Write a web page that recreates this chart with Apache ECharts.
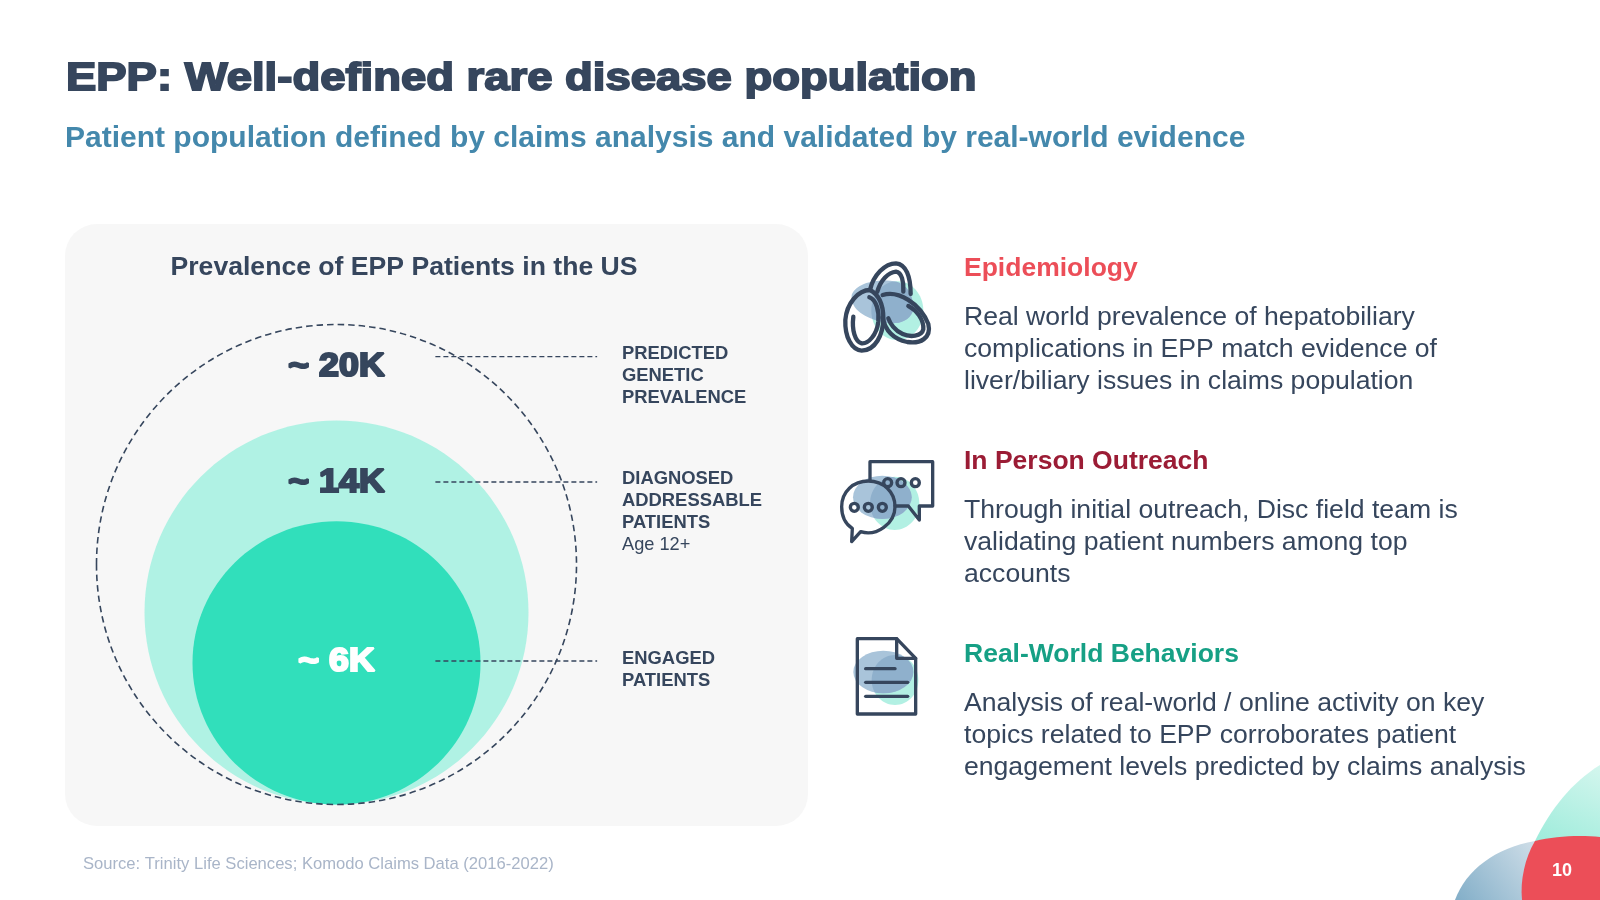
<!DOCTYPE html>
<html>
<head>
<meta charset="utf-8">
<style>html,body{margin:0;padding:0;background:#fff}#chart{width:1600px;height:900px}</style>
<script src="https://cdn.jsdelivr.net/npm/echarts@6/dist/echarts.min.js"></script>
</head>
<body>
<div id="chart"></div>
<script>
var categories = ["Predicted genetic prevalence", "Diagnosed addressable patients", "Engaged patients"];
var patientsK = [20, 14, 6];
// circle size as a share of the outer circle
var widthShare = [100, 80, 60];
var heightShare = [100, 80, 59];
var circleLabels = ["~ 20K", "~ 14K", "~ 6K"];

var sideLabels = [
	["PREDICTED", "GENETIC", "PREVALENCE"],
	["DIAGNOSED", "ADDRESSABLE", "PATIENTS"],
	["ENGAGED", "PATIENTS"]
];

var topics = ["Epidemiology", "In Person Outreach", "Real-World Behaviors"];
var topicText = [
	["Real world prevalence of hepatobiliary", "complications in EPP match evidence of", "liver/biliary issues in claims population"],
	["Through initial outreach, Disc field team is", "validating patient numbers among top", "accounts"],
	["Analysis of real-world / online activity on key", "topics related to EPP corroborates patient", "engagement levels predicted by claims analysis"]
];

var navy = "#36465d";
var sans = '"Liberation Sans", Arial, sans-serif';
var topicColors = ["#ec4e58", "#9b1c35", "#16a085"];
var fills = ["none", "#b0f2e4", "#31dfbb"];
var numColors = [navy, navy, "#ffffff"];
// y of leader line and of the number, on the hidden 0-100 axis
var leaderY = [93.3, 67.2, 29.9];
var numberY = [91.2, 67.0, 29.7];

function txt(x, y, s, font, fill, extra) {
	return {
		type: "text", silent: true,
		style: Object.assign({ x: x, y: y, text: s, font: font, fill: fill, verticalAlign: "middle", align: "left" }, extra || {})
	};
}

var els = [];
els.push({ type: "rect", silent: true, z: -10, shape: { x: 65, y: 224, width: 743, height: 602, r: 32 }, style: { fill: "#f7f7f7" } });
els.push({
	type: "text", silent: true, x: 66, y: 79.5, scaleX: 1.165,
	style: { x: 0, y: 0, text: "EPP: Well-defined rare disease population", font: "700 39px " + sans, fill: navy, stroke: navy, lineWidth: 1.8, verticalAlign: "middle", align: "left" }
});
els.push(txt(65, 138.5, "Patient population defined by claims analysis and validated by real-world evidence", "700 30px " + sans, "#4488ac"));
els.push(txt(170.5, 268, "Prevalence of EPP Patients in the US", "700 26.6px " + sans, navy));
els.push(txt(83, 864, "Source: Trinity Life Sciences; Komodo Claims Data (2016-2022)", "400 16.6px " + sans, "#a9b5c8"));

var sideTop = [353.5, 478.5, 658.5];
sideLabels.forEach(function (lines, i) {
	lines.forEach(function (s, j) {
		els.push(txt(622, sideTop[i] + j * 22, s, "700 18.4px " + sans, navy));
	});
});
els.push(txt(622, 544.5, "Age 12+", "400 18.2px " + sans, navy));

var topicTop = [269, 462, 655];
topics.forEach(function (t, i) {
	els.push(txt(964, topicTop[i], t, "700 26.5px " + sans, topicColors[i]));
	topicText[i].forEach(function (s, j) {
		els.push(txt(964, topicTop[i] + 48.5 + j * 32, s, "400 26.6px " + sans, navy));
	});
});

function ell(cx, cy, rx, ry) {
	return "M" + (cx - rx) + " " + cy + "A" + rx + " " + ry + " 0 1 1 " + (cx + rx) + " " + cy + "A" + rx + " " + ry + " 0 1 1 " + (cx - rx) + " " + cy + "Z";
}

// teal blob, blue blob, then the blue shape again clipped to the teal for the darker overlap
function icon(ox, oy, teal, bluePath, strokes, lw) {
	var children = [
		{ type: "ellipse", shape: { cx: teal[0], cy: teal[1], rx: teal[2], ry: teal[3] }, style: { fill: "#b2f0e3" } },
		{ type: "path", shape: { pathData: bluePath }, style: { fill: "#a9c4da" } },
		{
			type: "path", shape: { pathData: bluePath }, style: { fill: "#8fb0cc" },
			clipPath: { type: "ellipse", shape: { cx: teal[0], cy: teal[1], rx: teal[2], ry: teal[3] } }
		}
	];
	strokes.forEach(function (d) {
		children.push({
			type: "path",
			shape: { pathData: d },
			style: { fill: "none", stroke: navy, lineWidth: lw, lineCap: "round", lineJoin: "round" }
		});
	});
	return { type: "group", x: ox, y: oy, scaleX: 1 / 3, scaleY: 1 / 3, children: children };
}

var decor = [
	{ type: "path", shape: { pathData: "M1535 841C1550 810 1572 782 1600 765L1600 900L1535 900Z" },
		style: { fill: new echarts.graphic.LinearGradient(0, 1, 1, 0, [{ offset: 0, color: "#7fe6d0" }, { offset: 1, color: "#d4f6ee" }]) } },
	{ type: "path", shape: { pathData: "M1455 900C1466 870 1495 848 1535 841L1535 900Z" },
		style: { fill: new echarts.graphic.LinearGradient(0, 1, 1, 0, [{ offset: 0, color: "#82aec8" }, { offset: 1, color: "#cfdee8" }]) } },
	{ type: "path", shape: { pathData: "M1535 841C1555 836 1580 835 1600 837L1600 900L1522 900C1520 880 1525 858 1535 841Z" },
		style: { fill: "#ec4e58" } },
	{ type: "text", style: { x: 1562, y: 871, text: "10", font: "700 18px " + sans, fill: "#fff", align: "center", verticalAlign: "middle" } },
	icon(820, 240,
		[232, 212, 78, 88],
		"M95 165C110 125 180 115 230 125C265 135 285 175 278 215C265 250 220 255 185 245C140 235 90 210 95 165Z",
		[
			"M150 150C115 150 80 190 76 240C74 290 95 330 125 332C165 332 190 285 190 235C190 195 178 165 150 150Z",
			"M148 172C170 180 178 215 175 245C170 285 145 312 125 310C105 305 95 270 100 230",
			"M188 165C235 150 300 190 325 252C335 295 300 312 262 306C225 298 196 275 188 232",
			"M265 198C290 210 312 240 310 268C305 290 270 292 248 282C225 272 210 250 205 235",
			"M150 150C160 105 195 70 228 70C258 72 272 110 272 162",
			"M172 155C182 120 205 97 228 95C245 97 252 125 250 155"
		], 13),
	icon(820, 445,
		[224, 175, 74, 80],
		ell(187, 157, 88, 65),
		[
			"M150 105L150 50L338 50L338 183L298 183L298 225L265 183L225 183",
			"M122 260C170 275 225 235 225 185C225 140 190 108 145 108C100 108 65 140 65 185C65 215 78 238 97 250L95 290Z",
			ell(203, 113, 12, 12), ell(243, 113, 12, 12), ell(286, 113, 12, 12),
			ell(103, 187, 12, 12), ell(145, 187, 12, 12), ell(187, 187, 12, 12)
		], 10),
	icon(830, 625,
		[195, 165, 70, 75],
		ell(160, 141, 90, 64),
		[
			"M200 41L82 41L82 267L257 267L257 100Z",
			"M200 41L200 100L257 100",
			"M107 131L195 131", "M107 172L233 172", "M107 214L233 214"
		], 10)
];

var chart = echarts.init(document.getElementById("chart"));
chart.setOption({
	backgroundColor: "#ffffff",
	animation: false,
	graphic: { elements: els },
	// plot box equals the outer circle, axes run 0-100 in share of its diameter
	grid: { left: 96.5, top: 324.5, width: 480, height: 480 },
	xAxis: { type: "value", min: 0, max: 100, show: false },
	yAxis: { type: "value", min: 0, max: 100, show: false },
	series: [
		{
			type: "custom",
			name: "Patients",
			silent: true,
			clip: false,
			z: 5,
			data: categories.map(function (c, i) { return { name: c, value: [widthShare[i], heightShare[i], patientsK[i]] }; }),
			renderItem: function (params, api) {
				var i = params.dataIndex;
				var w = api.value(0);
				var h = api.value(1);
				// circles all touch the bottom of the outer one
				var c = api.coord([50, h / 2]);
				var sz = api.size([w, h]);
				var a = api.coord([70.6, leaderY[i]]);
				var b = api.coord([104.3, leaderY[i]]);
				var n = api.coord([50, numberY[i]]);
				var shape = { cx: c[0], cy: c[1], rx: sz[0] / 2, ry: sz[1] / 2 };
				var kids = [];
				if (i === 0) {
					kids.push({ type: "ellipse", z2: 20, shape: shape,
						style: { fill: "none", stroke: navy, lineWidth: 1.6, lineDash: [6.5, 4] } });
				} else {
					kids.push({ type: "ellipse", z2: i, shape: shape, style: { fill: fills[i] } });
				}
				kids.push({ type: "line", z2: 21, shape: { x1: a[0], y1: a[1], x2: b[0], y2: b[1] },
					style: { stroke: navy, lineWidth: 1.4, lineDash: [5, 3] } });
				kids.push({ type: "text", z2: 22, x: n[0], y: n[1], scaleX: 1.1, style: {
					x: 0, y: 0, text: circleLabels[i], font: "700 32.5px " + sans,
					fill: numColors[i], stroke: numColors[i], lineWidth: 2.2, align: "center", verticalAlign: "middle"
				} });
				return { type: "group", children: kids };
			}
		},
		{
			type: "custom",
			name: "Decoration",
			silent: true,
			coordinateSystem: "none",
			z: 6,
			data: [0],
			renderItem: function () { return { type: "group", children: decor }; }
		}
	]
});
</script>
</body>
</html>
